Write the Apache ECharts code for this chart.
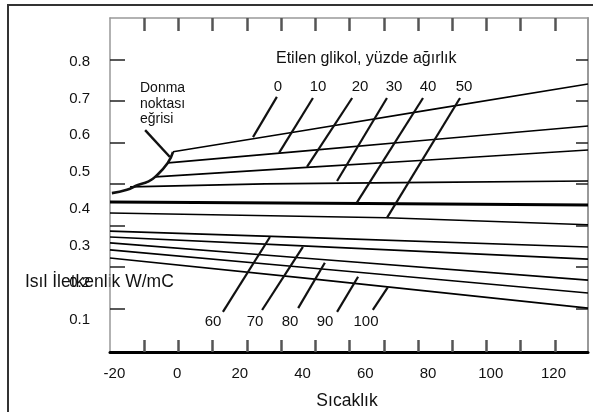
<!DOCTYPE html>
<html><head><meta charset="utf-8">
<script src="https://cdn.jsdelivr.net/npm/echarts@6/dist/echarts.min.js"></script>
<style>html,body{margin:0;padding:0;background:#fff}#c{width:593px;height:412px}</style>
</head><body><div id="c"></div>
<script>
// Ethylene glycol concentration (% by weight) lines: [temperature °C, conductivity W/mC]
const concentrations = ['0', '10', '20', '30', '40', '50', '60', '70', '80', '90', '100'];
const line0   = [[-1.3, 0.555], [40, 0.612], [80, 0.668], [131, 0.739]];
const line10  = [[-2.9, 0.525], [40, 0.557], [80, 0.587], [131, 0.625]];
const line20  = [[-7.0, 0.487], [40, 0.512], [80, 0.533], [131, 0.560]];
const line30  = [[-15.0, 0.460], [28, 0.468], [80, 0.472], [131, 0.476]];
const line40  = [[-21.4, 0.419], [60, 0.415], [131, 0.411]];
const line50  = [[-21.4, 0.389], [66.9, 0.376], [131, 0.357]];
const line60  = [[-21.4, 0.340], [40, 0.323], [131, 0.297]];
const line70  = [[-21.4, 0.324], [40, 0.300], [131, 0.264]];
const line80  = [[-21.4, 0.308], [40, 0.267], [131, 0.207]];
const line90  = [[-21.4, 0.289], [40, 0.242], [131, 0.172]];
const line100 = [[-21.4, 0.267], [40, 0.213], [131, 0.131]];
const lines = [line0, line10, line20, line30, line40, line50, line60, line70, line80, line90, line100];

// Freezing point curve ("Donma noktası eğrisi")
const freezeCurve = [[-20.8, 0.443], [-16.0, 0.452], [-12.5, 0.465], [-9.3, 0.474], [-7.0, 0.487], [-3.0, 0.525], [-1.3, 0.555]];
const freezePointer = [[-10.2, 0.614], [-2.3, 0.541]];

// Leader lines from the concentration labels to their lines
const leadersTop = [
  [[31.8, 0.704], [24.2, 0.595]],
  [[43.3, 0.701], [32.5, 0.552]],
  [[55.8, 0.701], [41.4, 0.514]],
  [[66.9, 0.701], [51.0, 0.476]],
  [[78.4, 0.701], [57.3, 0.417]],
  [[90.2, 0.701], [66.9, 0.376]]
];
const leadersBottom = [
  [[14.6, 0.121], [29.6, 0.324]],
  [[27.1, 0.126], [40.1, 0.297]],
  [[38.6, 0.131], [47.1, 0.254]],
  [[51.0, 0.121], [57.7, 0.216]],
  [[62.4, 0.126], [67.2, 0.188]]
];

// Axis labels and tick marks
const xTickLabels = [-20, 0, 20, 40, 60, 80, 100, 120];
const yTickLabels = [0.1, 0.2, 0.3, 0.4, 0.5, 0.6, 0.7, 0.8];
const xScaleTicks = [-10.6, 0.4, 11.3, 22.2, 33.1, 44.0, 54.9, 65.9, 76.8, 87.7, 98.6, 109.5, 120.4];
const yScaleTicks = [0.129, 0.243, 0.354, 0.468, 0.579, 0.693, 0.804];

const FONT = '"Liberation Sans", Arial, sans-serif';
const chart = echarts.init(document.getElementById('c'), null, {renderer: 'canvas'});

const series = [];
lines.forEach((d, i) => {
  series.push({
    type: 'line', name: concentrations[i] + '%', data: d, symbol: 'none', silent: true,
    lineStyle: {color: '#000', width: i === 4 ? 3 : 1.6}
  });
});
series.push({type: 'line', data: freezeCurve, symbol: 'none', smooth: true, silent: true,
  lineStyle: {color: '#111', width: 2.6}});
series.push({type: 'line', data: freezePointer, symbol: 'none', silent: true,
  lineStyle: {color: '#111', width: 2.4}});
leadersTop.concat(leadersBottom).forEach(d => {
  series.push({type: 'line', data: d, symbol: 'none', silent: true,
    lineStyle: {color: '#111', width: 2.2}});
});

const txt = (x, y, s, size, align) => ({
  type: 'text', x: x, y: y, silent: true,
  style: {text: s, fill: '#111', font: size + 'px ' + FONT, textAlign: align || 'center', textVerticalAlign: 'middle'}
});

const topNums = [['0', 278], ['10', 318], ['20', 360], ['30', 394], ['40', 428], ['50', 464]];
const botNums = [['60', 213], ['70', 255], ['80', 290], ['90', 325], ['100', 366]];

const graphics = [
  {type: 'rect', shape: {x: 8, y: 5, width: 620, height: 440}, style: {fill: 'none', stroke: '#333', lineWidth: 2}, silent: true},
  txt(276, 59, 'Etilen glikol, yüzde ağırlık', 16, 'left'),
  txt(140, 88, 'Donma', 14, 'left'),
  txt(140, 104, 'noktası', 14, 'left'),
  txt(140, 119, 'eğrisi', 14, 'left'),
  txt(25, 282, 'Isıl İletkenlik W/mC', 17.5, 'left'),
  txt(347, 401, 'Sıcaklık', 17.5, 'center')
];
topNums.forEach(([s, x]) => graphics.push(txt(x, 87, s, 15)));
botNums.forEach(([s, x]) => graphics.push(txt(x, 322, s, 15)));

chart.setOption({
  animation: false,
  backgroundColor: '#fff',
  grid: {left: 110, right: 5, top: 18, bottom: 60, show: false},
  xAxis: [{
    type: 'value', min: -21.4, max: 131, position: 'bottom',
    axisLine: {show: true, lineStyle: {color: '#000', width: 3}},
    axisTick: {show: true, inside: true, length: 12, customValues: xScaleTicks, lineStyle: {color: '#555', width: 2.5}},
    axisLabel: {customValues: xTickLabels, margin: 14, fontSize: 15, color: '#111', fontFamily: FONT},
    splitLine: {show: false}
  }, {
    type: 'value', min: -21.4, max: 131, position: 'top',
    axisLine: {show: true, onZero: false, lineStyle: {color: '#999', width: 1.5}},
    axisTick: {show: true, inside: true, length: 13, customValues: xScaleTicks, lineStyle: {color: '#555', width: 2.5}},
    axisLabel: {show: false},
    splitLine: {show: false}
  }],
  yAxis: [{
    type: 'value', min: 0.012, max: 0.918, position: 'left',
    axisLine: {show: true, onZero: false, lineStyle: {color: '#999', width: 1.5}},
    axisTick: {show: true, inside: true, length: 15, customValues: yScaleTicks, lineStyle: {color: '#222', width: 1.5}},
    axisLabel: {customValues: yTickLabels, margin: 20, fontSize: 15, color: '#111', fontFamily: FONT,
      formatter: v => v.toFixed(1)},
    splitLine: {show: false}
  }, {
    type: 'value', min: 0.012, max: 0.918, position: 'right',
    axisLine: {show: true, onZero: false, lineStyle: {color: '#999', width: 2}},
    axisTick: {show: true, inside: true, length: 12, customValues: yScaleTicks, lineStyle: {color: '#222', width: 1.5}},
    axisLabel: {show: false},
    splitLine: {show: false}
  }],
  series: series,
  graphic: graphics
});
</script></body></html>
